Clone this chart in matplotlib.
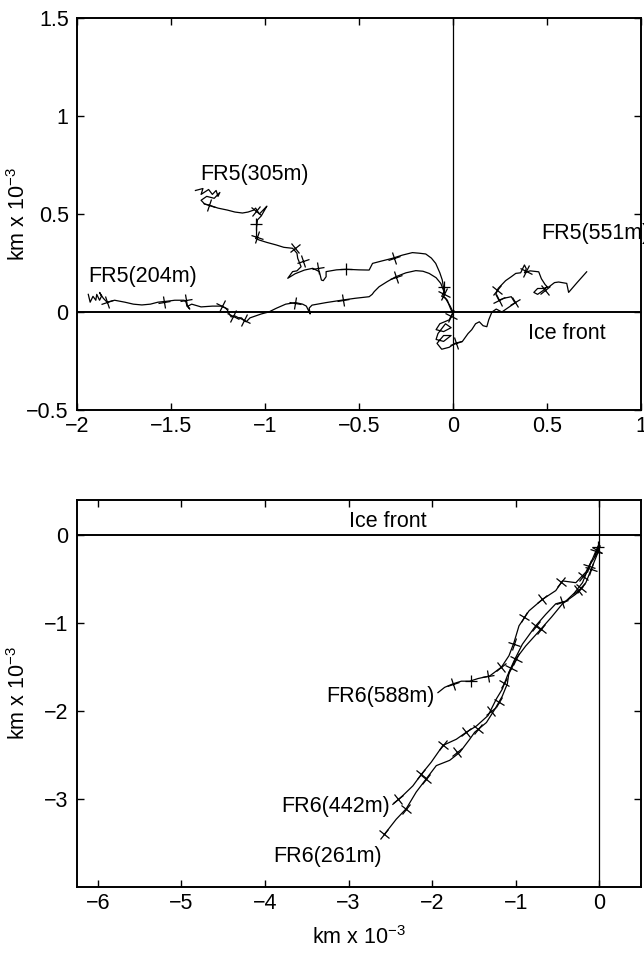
import numpy as np
import matplotlib
matplotlib.use("Agg")
import matplotlib.pyplot as plt
from matplotlib.markers import MarkerStyle
from matplotlib.transforms import Affine2D

plt.rcParams.update({
    "font.family": ["Liberation Sans", "DejaVu Sans"],
    "font.size": 15.5,
    "mathtext.fontset": "custom",
    "mathtext.rm": "Liberation Sans",
    "mathtext.it": "Liberation Sans",
    "axes.linewidth": 1.4,
    "xtick.direction": "in", "ytick.direction": "in",
    "xtick.top": True, "ytick.right": True,
    "xtick.major.size": 5, "ytick.major.size": 5,
    "xtick.major.width": 1.0, "ytick.major.width": 1.0,
})

# ---- FR5 floats (upper panel) ----
fr5_204_x = [-1.94, -1.93, -1.915, -1.90, -1.895, -1.88, -1.87, -1.88, -1.86, -1.85, -1.84, -1.80, -1.745,
             -1.70, -1.655, -1.61, -1.57, -1.52, -1.48, -1.43, -1.42, -1.415, -1.40, -1.41, -1.39, -1.34,
             -1.28, -1.23, -1.21, -1.20, -1.19, -1.18, -1.16, -1.14, -1.125, -1.11, -1.10, -1.08, -1.05,
             -1.02, -0.98, -0.94, -0.89, -0.838, -0.80, -0.78, -0.765, -0.76, -0.765, -0.75, -0.675,
             -0.587, -0.52, -0.446, -0.43, -0.419, -0.393, -0.35, -0.304, -0.25, -0.198, -0.16, -0.127,
             -0.09, -0.065, -0.048, -0.06, -0.04, -0.03, -0.015, 0.0]
fr5_204_y = [0.09, 0.05, 0.08, 0.06, 0.09, 0.06, 0.08, 0.10, 0.07, 0.06, 0.05, 0.06, 0.05,
             0.04, 0.036, 0.04, 0.05, 0.055, 0.06, 0.06, 0.05, 0.03, 0.015, 0.03, 0.04, 0.026,
             0.03, 0.03, 0.02, 0.01, -0.01, -0.025, -0.02, -0.03, -0.03, -0.045, -0.05, -0.03, -0.02,
             -0.01, 0.0, 0.019, 0.04, 0.048, 0.04, 0.03, 0.0, -0.01, 0.02, 0.035, 0.048,
             0.061, 0.07, 0.078, 0.09, 0.104, 0.129, 0.155, 0.18, 0.20, 0.211, 0.208, 0.197,
             0.175, 0.146, 0.104, 0.08, 0.07, 0.053, 0.03, 0.0]
fr5_204_tx = [-1.84, -1.537, -1.418, -1.23, -1.17, -1.11, -0.838, -0.587, -0.304, -0.05]
fr5_204_ty = [0.05, 0.053, 0.06, 0.03, -0.02, -0.04, 0.048, 0.061, 0.18, 0.09]

fr5_305_x = [-1.37, -1.33, -1.34, -1.30, -1.28, -1.26, -1.25, -1.24, -1.27, -1.31, -1.34, -1.32, -1.30,
             -1.25, -1.20, -1.16, -1.12, -1.09, -1.06, -1.05, -1.03, -1.00, -0.99, -1.02, -1.04, -1.045,
             -1.045, -1.05, -1.03, -0.99, -0.94, -0.90, -0.853, -0.83, -0.826, -0.808, -0.83, -0.853,
             -0.879, -0.84, -0.79, -0.746, -0.711, -0.70, -0.69, -0.675, -0.675, -0.62, -0.569, -0.50,
             -0.446, -0.428, -0.38, -0.322, -0.27, -0.216, -0.18, -0.145, -0.115, -0.092, -0.07, -0.057,
             -0.048, -0.048, -0.03, -0.021, -0.01, 0.0]
fr5_305_y = [0.62, 0.63, 0.60, 0.625, 0.60, 0.62, 0.59, 0.61, 0.58, 0.59, 0.57, 0.55, 0.546,
             0.53, 0.52, 0.51, 0.505, 0.51, 0.52, 0.53, 0.50, 0.53, 0.54, 0.49, 0.47, 0.43,
             0.39, 0.375, 0.367, 0.355, 0.342, 0.33, 0.325, 0.30, 0.274, 0.231, 0.21, 0.206,
             0.172, 0.195, 0.214, 0.223, 0.206, 0.163, 0.16, 0.18, 0.206, 0.215, 0.218, 0.215,
             0.214, 0.248, 0.26, 0.274, 0.29, 0.303, 0.30, 0.296, 0.275, 0.248, 0.20, 0.163,
             0.11, 0.078, 0.06, 0.036, 0.01, 0.0]
fr5_305_tx = [-1.30, -1.047, -1.047, -1.045, -0.843, -0.80, -0.72, -0.569, -0.313, -0.05]
fr5_305_ty = [0.546, 0.515, 0.45, 0.385, 0.325, 0.26, 0.222, 0.218, 0.277, 0.13]

fr5_551_x = [0.0, -0.02, -0.07, -0.09, -0.05, -0.01, -0.04, -0.08, -0.09, -0.05, -0.01, -0.05, -0.085,
             -0.06, -0.02, 0.01, 0.05, 0.08, 0.10, 0.12, 0.14, 0.16, 0.18, 0.19, 0.207, 0.23, 0.26,
             0.29, 0.33, 0.31, 0.27, 0.244, 0.228, 0.24, 0.28, 0.31, 0.334, 0.36, 0.38, 0.39, 0.38,
             0.41, 0.456, 0.47, 0.49, 0.50, 0.48, 0.45, 0.43, 0.45, 0.48, 0.51, 0.54, 0.562, 0.58,
             0.605, 0.615, 0.66, 0.711]
fr5_551_y = [0.0, -0.04, -0.06, -0.09, -0.10, -0.08, -0.06, -0.11, -0.14, -0.15, -0.12, -0.12, -0.16,
             -0.19, -0.18, -0.16, -0.15, -0.11, -0.09, -0.06, -0.05, -0.07, -0.075, -0.04, 0.0, 0.015, 0.0,
             0.02, 0.046, 0.078, 0.07, 0.06, 0.09, 0.12, 0.16, 0.18, 0.197, 0.20, 0.24, 0.22, 0.20,
             0.21, 0.205, 0.17, 0.14, 0.13, 0.11, 0.09, 0.10, 0.12, 0.12, 0.128, 0.15, 0.153, 0.15,
             0.146, 0.10, 0.15, 0.205]
fr5_551_tx = [-0.01, 0.014, 0.244, 0.236, 0.33, 0.386, 0.49]
fr5_551_ty = [-0.02, -0.16, 0.06, 0.11, 0.05, 0.21, 0.11]

# ---- FR6 floats (lower panel) ----
fr6_588_x = [0.0, -0.04, -0.08, -0.16, -0.28, -0.44, -0.52, -0.68, -0.84, -0.96, -1.02, -1.08, -1.17,
             -1.31, -1.45, -1.55, -1.65, -1.75, -1.85, -1.93]
fr6_588_y = [-0.10, -0.18, -0.27, -0.42, -0.54, -0.52, -0.63, -0.73, -0.86, -1.03, -1.22, -1.37, -1.50,
             -1.60, -1.63, -1.66, -1.66, -1.69, -1.73, -1.79]
fr6_588_tx = [-0.04, -0.20, -0.46, -0.68, -0.90, -1.02, -1.17, -1.33, -1.53, -1.75]
fr6_588_ty = [-0.18, -0.46, -0.53, -0.73, -0.93, -1.24, -1.50, -1.60, -1.66, -1.69]

fr6_442_x = [0.0, -0.02, -0.12, -0.20, -0.30, -0.40, -0.52, -0.64, -0.76, -0.92, -1.02, -1.10, -1.16,
             -1.23, -1.33, -1.47, -1.59, -1.71, -1.87, -2.01, -2.13, -2.23, -2.35, -2.47]
fr6_442_y = [-0.10, -0.20, -0.35, -0.54, -0.66, -0.75, -0.78, -0.90, -1.03, -1.24, -1.43, -1.60, -1.75,
             -1.86, -2.05, -2.17, -2.24, -2.32, -2.39, -2.58, -2.72, -2.85, -2.96, -3.06]
fr6_442_tx = [-0.03, -0.12, -0.25, -0.44, -0.76, -1.06, -1.14, -1.30, -1.59, -1.87, -2.13, -2.41]
fr6_442_ty = [-0.17, -0.35, -0.62, -0.76, -1.03, -1.51, -1.68, -2.00, -2.24, -2.39, -2.72, -3.00]

fr6_261_x = [0.0, 0.0, -0.08, -0.16, -0.28, -0.44, -0.57, -0.70, -0.88, -1.00, -1.08, -1.10, -1.16,
             -1.25, -1.35, -1.49, -1.55, -1.67, -1.79, -1.95, -2.07, -2.19, -2.31, -2.43, -2.57]
fr6_261_y = [-0.10, -0.16, -0.35, -0.54, -0.67, -0.78, -0.93, -1.07, -1.26, -1.41, -1.56, -1.69, -1.83,
             -1.98, -2.13, -2.24, -2.32, -2.47, -2.56, -2.62, -2.77, -2.92, -3.11, -3.23, -3.40]
fr6_261_tx = [-0.01, -0.10, -0.22, -0.70, -1.00, -1.20, -1.45, -1.70, -2.07, -2.31, -2.57]
fr6_261_ty = [-0.13, -0.39, -0.60, -1.07, -1.41, -1.90, -2.20, -2.47, -2.77, -3.11, -3.40]

fig = plt.figure(figsize=(6.44, 9.57), dpi=100)
W, H = 644.0, 957.0
ax1 = fig.add_axes([77 / W, 1 - 410 / H, 564 / W, 392 / H])
ax2 = fig.add_axes([77 / W, 1 - 887 / H, 564 / W, 387 / H])

ax1.set_xlim(-2, 1); ax1.set_ylim(-0.5, 1.5)
ax1.set_xticks([-2, -1.5, -1, -0.5, 0, 0.5, 1])
ax1.set_xticklabels(["\u22122", "\u22121.5", "\u22121", "\u22120.5", "0", "0.5", "1"])
ax1.set_yticks([-0.5, 0, 0.5, 1, 1.5])
ax1.set_yticklabels(["\u22120.5", "0", "0.5", "1", "1.5"])
ax2.set_xlim(-6.25, 0.5); ax2.set_ylim(-4.0, 0.4)
ax2.set_xticks([-6, -5, -4, -3, -2, -1, 0])
ax2.set_yticks([-3, -2, -1, 0])
for ax in (ax1, ax2):
    ax.tick_params(axis="y", pad=6)
    ax.tick_params(axis="x", pad=4)
    ax.set_ylabel("km x 10$^{-3}$")
    ax.yaxis.set_label_coords(-0.083, 0.5)
ax2.set_xlabel("km x 10$^{-3}$", labelpad=9)


def track(ax, x, y, tx, ty):
    ax.plot(x, y, color="k", lw=0.9, zorder=3)
    pts = ax.transData.transform(np.column_stack([x, y]))
    for a, b in zip(tx, ty):
        p = ax.transData.transform((a, b))
        d = np.hypot(pts[:, 0] - p[0], pts[:, 1] - p[1])
        i = int(np.argmin(d))
        j = min(i + 1, len(pts) - 1)
        if j == i:
            i = i - 1
        ang = np.degrees(np.arctan2(pts[j, 1] - pts[i, 1], pts[j, 0] - pts[i, 0]))
        m = MarkerStyle("+", transform=Affine2D().rotate_deg(ang))
        ax.plot(a, b, marker=m, ms=9, mew=0.9, color="k", zorder=3)


for ax in (ax1, ax2):
    ax.axhline(0, color="k", lw=1.4, zorder=2)
    ax.axvline(0, color="k", lw=0.9, zorder=2)

track(ax1, fr5_204_x, fr5_204_y, fr5_204_tx, fr5_204_ty)
track(ax1, fr5_305_x, fr5_305_y, fr5_305_tx, fr5_305_ty)
track(ax1, fr5_551_x, fr5_551_y, fr5_551_tx, fr5_551_ty)
track(ax2, fr6_588_x, fr6_588_y, fr6_588_tx, fr6_588_ty)
track(ax2, fr6_442_x, fr6_442_y, fr6_442_tx, fr6_442_ty)
track(ax2, fr6_261_x, fr6_261_y, fr6_261_tx, fr6_261_ty)

ax1.text(-1.347, 0.70, "FR5(305m)", va="center", ha="left")
ax1.text(-1.94, 0.18, "FR5(204m)", va="center", ha="left")
ax1.text(0.47, 0.40, "FR5(551m)", va="center", ha="left", clip_on=False)
ax1.text(0.40, -0.11, "Ice front", va="center", ha="left")

ax2.text(-1.97, -1.83, "FR6(588m)", va="center", ha="right")
ax2.text(-2.50, -3.09, "FR6(442m)", va="center", ha="right")
ax2.text(-2.60, -3.65, "FR6(261m)", va="center", ha="right")
ax2.text(-2.99, 0.15, "Ice front", va="center", ha="left")

fig.savefig("out.png", dpi=100)
